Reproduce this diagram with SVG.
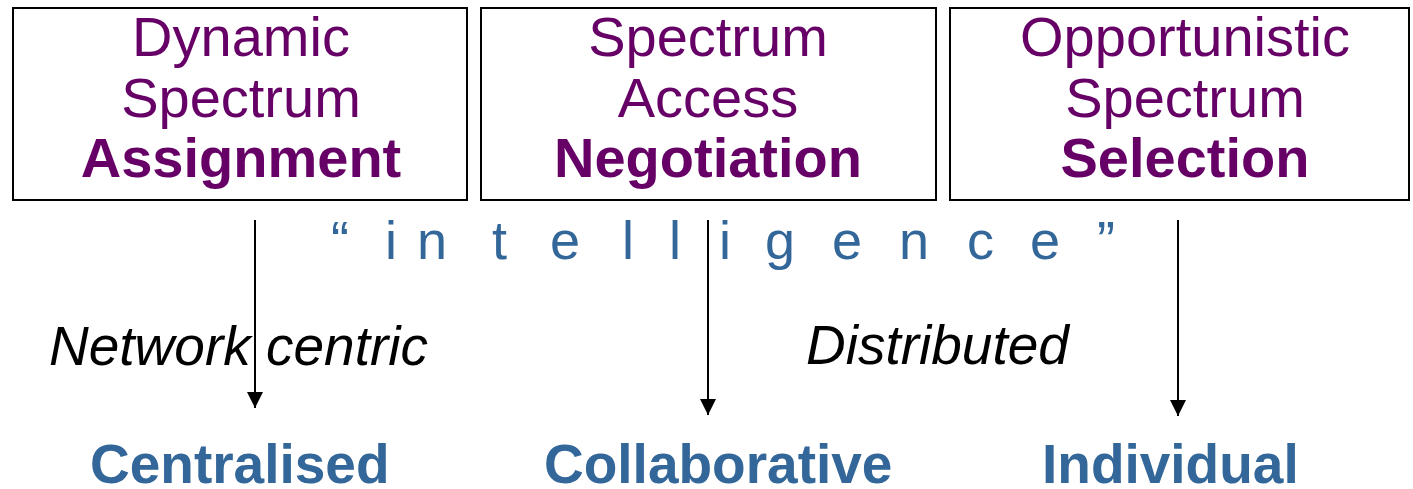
<svg xmlns="http://www.w3.org/2000/svg" width="1413" height="489" viewBox="0 0 1413 489">
  <style>
    .box { fill: #ffffff; stroke: #000000; stroke-width: 2; }
    .title { font-family: "Liberation Sans", Arial, sans-serif; font-size: 56px; fill: #660066; text-anchor: middle; }
    .strong { font-weight: bold; }
    .note { font-family: "Liberation Sans", Arial, sans-serif; font-size: 55px; font-style: italic; fill: #000000; }
    .kind { font-family: "Liberation Sans", Arial, sans-serif; font-size: 55px; font-weight: bold; fill: #336699; }
    .spaced { font-family: "Liberation Sans", Arial, sans-serif; font-size: 54px; fill: #336699; }
    .arrow { stroke: #000000; stroke-width: 2; fill: none; marker-end: url(#head); }
  </style>
  <defs>
    <marker id="head" markerUnits="userSpaceOnUse" markerWidth="16" markerHeight="16" refX="16" refY="8" orient="auto">
      <path d="M0,0 L16,8 L0,16 z" fill="#000000"/>
    </marker>
  </defs>

  <rect width="1413" height="489" fill="#ffffff"/>

  <!-- top row: the three spectrum approaches -->
  <g id="assignment">
    <rect class="box" x="13" y="8" width="454" height="192"/>
    <text class="title" x="241" y="56">Dynamic</text>
    <text class="title" x="241" y="117">Spectrum</text>
    <text class="title strong" x="241" y="177">Assignment</text>
  </g>
  <g id="negotiation">
    <rect class="box" x="481" y="8" width="455" height="192"/>
    <text class="title" x="708" y="56">Spectrum</text>
    <text class="title" x="708" y="117">Access</text>
    <text class="title strong" x="708" y="177">Negotiation</text>
  </g>
  <g id="selection">
    <rect class="box" x="950" y="8" width="459" height="192"/>
    <text class="title" x="1185" y="56">Opportunistic</text>
    <text class="title" x="1185" y="117">Spectrum</text>
    <text class="title strong" x="1185" y="177">Selection</text>
  </g>

  <!-- spaced-out heading across the middle -->
  <g id="intelligence">
    <text class="spaced" y="259" x="331 360 385 402 417 456 492 522 550 590 622 650 669 700 719 742 765 798 832 866 899 934 967 1000 1030 1065 1097">“ i n t e l l i g e n c e ”</text>
  </g>

  <!-- axis labels -->
  <g id="network-centric">
    <text class="note" x="49" y="365">Network centric</text>
  </g>
  <g id="distributed">
    <text class="note" x="806" y="364">Distributed</text>
  </g>

  <!-- bottom row: resulting architectures -->
  <g id="centralised">
    <text class="kind" x="90" y="483">Centralised</text>
  </g>
  <g id="collaborative">
    <text class="kind" x="544" y="483">Collaborative</text>
  </g>
  <g id="individual">
    <text class="kind" x="1042" y="483">Individual</text>
  </g>

  <!-- connectors -->
  <g id="connectors">
    <line class="arrow" x1="255" y1="220" x2="255" y2="408"/>
    <line class="arrow" x1="708" y1="220" x2="708" y2="415"/>
    <line class="arrow" x1="1178" y1="220" x2="1178" y2="416"/>
  </g>
</svg>
